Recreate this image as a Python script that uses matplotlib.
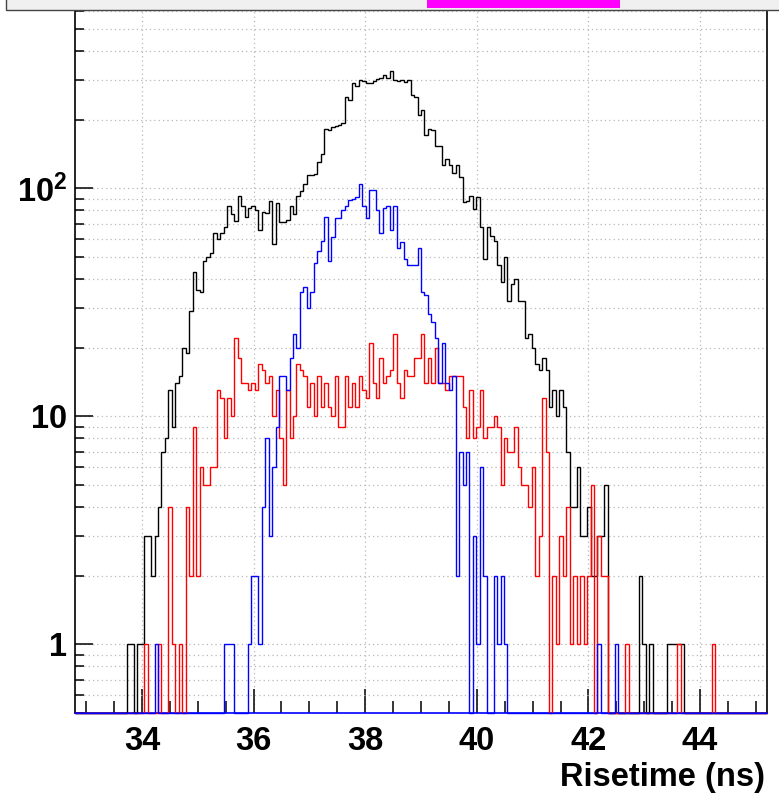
import matplotlib
matplotlib.use("Agg")
import matplotlib.pyplot as plt
import numpy as np
from matplotlib.patches import Rectangle
from matplotlib.ticker import FixedLocator, NullFormatter

# axis range of the histograms (200 bins)
X_MIN, X_MAX = 32.8, 45.2
Y_MIN, Y_MAX = 0.5, 1000.0

# counts per bin, bins 0..199
black_counts = [
    0, 0, 0, 0, 0, 0, 0, 0, 0, 0, 0, 0, 0, 0, 0, 1, 1, 0, 1, 1,
    3, 3, 2, 3, 4, 7, 8, 13, 9, 14, 15, 20, 19, 29, 43, 36, 35, 48, 50, 52,
    64, 60, 64, 68, 84, 77, 72, 93, 84, 75, 82, 84, 80, 66, 79, 78, 88, 57, 86, 71,
    71, 73, 84, 77, 93, 97, 105, 115, 115, 116, 131, 142, 182, 180, 186, 188, 190, 193, 252, 245,
    290, 280, 300, 296, 290, 291, 296, 301, 306, 313, 304, 327, 299, 296, 299, 292, 300, 256, 252, 210,
    220, 171, 183, 180, 154, 154, 127, 134, 127, 117, 127, 112, 87, 88, 93, 81, 92, 68, 49, 68,
    62, 59, 46, 39, 50, 32, 38, 40, 32, 32, 22, 23, 20, 17, 16, 18, 16, 11, 13, 10,
    13, 11, 7, 4, 4, 6, 3, 3, 4, 2, 2, 3, 3, 5, 0, 0, 0, 0, 0, 0,
    0, 0, 0, 2, 1, 0, 1, 0, 0, 0, 0, 1, 1, 1, 1, 1, 0, 0, 0, 0,
    0, 0, 0, 0, 0, 0, 0, 0, 0, 0, 0, 0, 0, 0, 0, 0, 0, 0, 0, 0,
]
red_counts = [
    0, 0, 0, 0, 0, 0, 0, 0, 0, 0, 0, 0, 0, 0, 0, 0, 0, 0, 0, 0,
    1, 0, 0, 0, 1, 0, 0, 4, 1, 0, 1, 0, 4, 2, 9, 2, 6, 5, 5, 6,
    6, 13, 12, 8, 12, 10, 22, 18, 14, 14, 13, 14, 13, 17, 16, 14, 15, 10, 13, 8,
    5, 13, 8, 10, 17, 16, 15, 11, 14, 10, 15, 11, 14, 11, 10, 15, 9, 9, 15, 11,
    14, 11, 15, 13, 12, 21, 14, 12, 18, 14, 15, 16, 23, 14, 12, 16, 15, 15, 18, 18,
    23, 14, 18, 14, 20, 14, 14, 13, 15, 15, 15, 15, 11, 8, 13, 8, 9, 13, 8, 9,
    9, 10, 9, 5, 8, 7, 7, 9, 6, 5, 5, 4, 6, 2, 3, 12, 7, 0, 2, 1,
    3, 2, 4, 1, 2, 1, 2, 1, 2, 5, 0, 3, 2, 2, 0, 0, 0, 0, 0, 1,
    0, 0, 0, 0, 0, 0, 0, 0, 0, 0, 0, 0, 0, 0, 1, 0, 0, 0, 0, 0,
    0, 0, 0, 0, 1, 0, 0, 0, 0, 0, 0, 0, 0, 0, 0, 0, 0, 0, 0, 0,
]
blue_counts = [
    0, 0, 0, 0, 0, 0, 0, 0, 0, 0, 0, 0, 0, 0, 0, 0, 0, 0, 0, 0,
    0, 0, 0, 1, 0, 0, 0, 0, 0, 0, 0, 0, 0, 0, 0, 0, 0, 0, 0, 0,
    0, 0, 0, 1, 1, 1, 0, 0, 0, 0, 1, 2, 2, 1, 4, 8, 3, 6, 9, 15,
    15, 13, 18, 23, 20, 35, 37, 30, 35, 47, 53, 59, 75, 48, 61, 74, 74, 80, 84, 89,
    90, 92, 104, 84, 74, 98, 98, 80, 64, 82, 84, 66, 84, 55, 58, 49, 46, 46, 46, 55,
    35, 34, 28, 26, 22, 14, 21, 14, 13, 15, 2, 7, 5, 7, 0, 3, 1, 6, 2, 0,
    0, 2, 1, 2, 1, 0, 0, 0, 0, 0, 0, 0, 0, 0, 0, 0, 0, 0, 0, 0,
    0, 0, 0, 0, 0, 0, 0, 0, 0, 0, 0, 1, 0, 0, 0, 0, 1, 0, 0, 0,
    0, 0, 0, 0, 0, 0, 0, 0, 0, 0, 0, 0, 0, 0, 0, 0, 0, 0, 0, 0,
    0, 0, 0, 0, 0, 0, 0, 0, 0, 0, 0, 0, 0, 0, 0, 0, 0, 0, 0, 0,
]

x_ticks = [34, 36, 38, 40, 42, 44]
x_tick_labels = ["34", "36", "38", "40", "42", "44"]
y_ticks = [1, 10, 100]
y_tick_labels = ["1", "10", r"$\mathbf{10^{2}}$"]
x_title = "Risetime (ns)"

plt.rcParams["font.family"] = ["Liberation Sans", "DejaVu Sans"]
plt.rcParams["font.weight"] = "bold"
plt.rcParams["mathtext.fontset"] = "custom"
plt.rcParams["mathtext.bf"] = "Liberation Sans:bold"
plt.rcParams["mathtext.rm"] = "Liberation Sans:bold"

W, H = 779, 793
LABEL_SIZE = 23.5
fig = plt.figure(figsize=(W / 100, H / 100), dpi=100)

# axes box in pixels: left 75, right 767, bottom 713; 228 px per decade
decade_px = 228.0
ax_h = decade_px * np.log10(Y_MAX / Y_MIN)
ax = fig.add_axes([75 / W, (H - 713) / H, (767 - 75) / W, ax_h / H])
ax.set_yscale("log")
ax.set_xlim(X_MIN, X_MAX)
ax.set_ylim(Y_MIN, Y_MAX)

edges = np.linspace(X_MIN, X_MAX, len(black_counts) + 1)
for counts, color in [(black_counts, "black"), (red_counts, "#ff0000"), (blue_counts, "#0000ff")]:
    vals = np.asarray(counts, dtype=float)
    vals = np.where(vals > 0, vals, Y_MIN)  # empty bins sit on the bottom axis like ROOT
    ax.stairs(vals, edges, baseline=None, color=color, lw=1.0, zorder=3, clip_on=False)

# ticks: inside, ROOT-like
ax.set_xticks(x_ticks, labels=x_tick_labels)
ax.xaxis.set_minor_locator(FixedLocator(np.arange(33.0, 45.01, 0.5)))
ax.set_yticks(y_ticks, labels=y_tick_labels)
ax.yaxis.set_minor_locator(FixedLocator(
    [v * d for d in (0.1, 1, 10, 100) for v in range(2, 10) if Y_MIN <= v * d <= Y_MAX]))
ax.yaxis.set_minor_formatter(NullFormatter())
ax.tick_params(axis="x", which="major", direction="in", length=17, width=1.1, pad=9.5,
               labelsize=LABEL_SIZE)
ax.tick_params(axis="x", which="minor", direction="in", length=8.5, width=1.1)
ax.tick_params(axis="y", which="major", direction="in", length=13, width=1.1, pad=5.5,
               labelsize=LABEL_SIZE)
ax.tick_params(axis="y", which="minor", direction="in", length=6.5, width=1.1)
for lab in ax.get_xticklabels() + ax.get_yticklabels():
    lab.set_fontweight("bold")

grid_style = dict(color="#b8b8b8", linestyle=(0, (1, 2.5)), lw=0.9)
ax.grid(True, which="major", axis="x", **grid_style)
ax.grid(True, which="both", axis="y", **grid_style)
ax.set_axisbelow(True)

for side in ("left", "right", "top", "bottom"):
    ax.spines[side].set_linewidth(1.2)
    ax.spines[side].set_color("black")
# the blue histogram's empty bins run along the bottom axis
ax.spines["bottom"].set_color("#0000ff")

fig.text(765 / W, (H - 786) / H, x_title, ha="right", va="baseline",
         fontsize=LABEL_SIZE, fontweight="bold")

# legend box cut off at the top of the canvas
fig.patches.append(Rectangle((6 / W, (H - 10) / H), 1.0, 0.05, transform=fig.transFigure,
                             facecolor="#f0f0f0", edgecolor="#444444", lw=1.0, zorder=10))
fig.patches.append(Rectangle((427 / W, (H - 8) / H), (620 - 427) / W, 0.05, transform=fig.transFigure,
                             facecolor="#ff00ff", edgecolor="none", zorder=11))

fig.savefig("out.png", dpi=100)
